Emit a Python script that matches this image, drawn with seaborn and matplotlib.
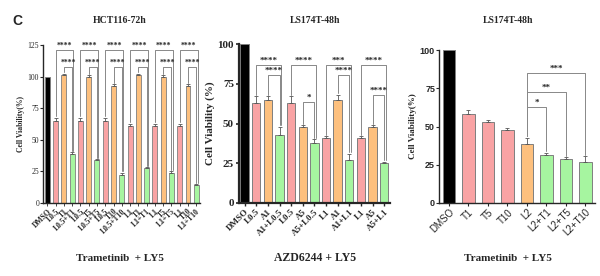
import numpy as np
import pandas as pd
import matplotlib
matplotlib.use('Agg')
import matplotlib.pyplot as plt
import seaborn as sns

sns.set_style('ticks')
plt.rcParams['font.family'] = ['Liberation Serif', 'DejaVu Serif']

BLACK = '#000000'
PINK = '#F9A3A4'
ORANGE = '#FDC07E'
GREEN = '#A6F5A0'
EDGE = '#7f7f7f'

# panel 1 : HCT116-72h
labels1 = ['DMSO', 'L0.5', 'T1', 'L0.5+T1', 'L0.5', 'T5', 'L0.5+T5', 'L0.5', 'T10', 'L0.5+T10',
           'L1', 'T1', 'L1+T1', 'L1', 'T5', 'L1+T5', 'L1', 'T10', 'L1+T10']
vals1 = [100, 65, 101, 39, 65, 99.5, 34, 65, 92.5, 22.5, 61, 101, 27.5, 61, 99.5, 24, 61, 92.5, 14]
err1 = [0, 2, 1.5, 1, 2, 1.5, 1, 2, 1.5, 1.5, 1.5, 1.5, 1, 1.5, 1.5, 1, 1.5, 1.5, 0.8]
colors1 = [BLACK] + [PINK, ORANGE, GREEN] * 6

# panel 2 : LS174T-48h, AZD6244
labels2 = ['DMSO', 'L0.5', 'A1', 'A1+L0.5', 'L0.5', 'A5', 'A5+L0.5', 'L1', 'A1', 'A1+L1', 'L1', 'A5', 'A5+L1']
vals2 = [100, 63, 65, 43, 63, 48, 38, 41, 65, 27, 41, 48, 25]
err2 = [0, 4, 2, 5, 4, 1, 2, 1, 3, 4, 1, 1, 1]
colors2 = [BLACK] + [PINK, ORANGE, GREEN] * 4

# panel 3 : LS174T-48h, Trametinib
labels3 = ['DMSO', 'T1', 'T5', 'T10', 'L2', 'L2+T1', 'L2+T5', 'L2+T10']
vals3 = [100, 58.5, 53, 48, 38.5, 31.5, 28.5, 26.5]
err3 = [0, 2, 1, 1.2, 4, 1.2, 1.5, 4]
colors3 = [BLACK, PINK, PINK, PINK, ORANGE, GREEN, GREEN, GREEN]


def bars(ax, labels, vals, err, colors, width, lw):
    df = pd.DataFrame({'pos': [str(i) for i in range(len(vals))], 'v': vals})
    sns.barplot(data=df, x='pos', y='v', hue='pos', palette=colors, legend=False,
                width=width, edgecolor=EDGE, linewidth=lw, saturation=1, ax=ax)
    x = np.arange(len(vals))
    ax.errorbar(x[1:], vals[1:], yerr=[np.zeros(len(vals) - 1), err[1:]], fmt='none',
                ecolor='#555555', elinewidth=0.6, capsize=1.5, capthick=0.6)
    ax.set_xlabel('')
    ax.set_xlim(-0.5, len(vals) - 0.5)


def bracket(ax, x1, x2, y, y1, y2, text, fs):
    ax.plot([x1, x1, x2, x2], [y1, y, y, y2], color='#888888', lw=0.7, clip_on=False)
    ax.text((x1 + x2) / 2, y, text, ha='center', va='bottom', fontsize=fs,
            fontweight='bold')


fig = plt.figure(figsize=(6, 2.76), dpi=100)
ax1 = fig.add_axes([0.072, 0.2645, 0.262, 0.572])
ax2 = fig.add_axes([0.398, 0.2645, 0.252, 0.576])
ax3 = fig.add_axes([0.732, 0.2645, 0.260, 0.554])

# ---- panel 1
bars(ax1, labels1, vals1, err1, colors1, 0.6, 0.6)
ax1.set_ylim(0, 125)
ax1.set_yticks([0, 25, 50, 75, 100, 125])
ax1.set_xticks(range(len(labels1)))
ax1.set_xticklabels(labels1, rotation=45, ha='right', rotation_mode='anchor',
                    fontsize=5.5, fontweight='bold')
ax1.tick_params(axis='y', labelsize=5.5, length=2, width=0.8, pad=1)
ax1.tick_params(axis='x', length=2, width=0.6, pad=1)
ax1.set_ylabel('Cell Viability(%)', fontsize=5.5, fontweight='bold', labelpad=2)
for g in range(6):
    r, o, gr = 1 + 3 * g, 2 + 3 * g, 3 + 3 * g
    bracket(ax1, r, gr + 0.15, 121.5, vals1[r] + err1[r] + 2, vals1[gr] + err1[gr] + 1, '****', 5.5)
    bracket(ax1, o, gr, 108, vals1[o] + err1[o] + 1, vals1[gr] + err1[gr] + 1, '****', 5.5)
for s in ['top', 'right']:
    ax1.spines[s].set_visible(False)
for s in ['left', 'bottom']:
    ax1.spines[s].set_linewidth(1.0)

# ---- panel 2
bars(ax2, labels2, vals2, err2, colors2, 0.72, 0.7)
ax2.set_ylim(0, 100)
ax2.set_yticks([0, 25, 50, 75, 100])
ax2.set_xticks(range(len(labels2)))
ax2.set_xticklabels(labels2, rotation=45, ha='right', rotation_mode='anchor',
                    fontsize=6.5, fontweight='bold')
ax2.tick_params(axis='y', labelsize=8, length=2.5, width=1.2, pad=1)
ax2.tick_params(axis='x', length=2.5, width=1.0, pad=1)
for t in ax2.get_yticklabels():
    t.set_fontweight('bold')
ax2.set_ylabel('Cell Viability (%)', fontsize=8, fontweight='bold', labelpad=2)
groups2 = [('****', '****', 80.5), ('****', '*', 63.5), ('***', '****', 80.5), ('****', '****', 68)]
for g, (top, low, ylow) in enumerate(groups2):
    r, o, gr = 1 + 3 * g, 2 + 3 * g, 3 + 3 * g
    bracket(ax2, r, gr + 0.12, 87, vals2[r] + err2[r] + 1, vals2[gr] + err2[gr] + 1, top, 6.5)
    bracket(ax2, o, gr, ylow, vals2[o] + err2[o] + 1, vals2[gr] + err2[gr] + 1, low, 6.5)
for s in ['top', 'right']:
    ax2.spines[s].set_visible(False)
for s in ['left', 'bottom']:
    ax2.spines[s].set_linewidth(1.6)

# ---- panel 3
bars(ax3, labels3, vals3, err3, colors3, 0.66, 0.7)
ax3.set_ylim(0, 100)
ax3.set_yticks([0, 25, 50, 75, 100])
ax3.set_xticks(range(len(labels3)))
ax3.set_xticklabels(labels3, rotation=45, ha='right', rotation_mode='anchor',
                    fontsize=7, family='Liberation Sans')
ax3.tick_params(axis='y', labelsize=6.5, length=2, width=0.8, pad=1)
ax3.tick_params(axis='x', length=2, width=0.8, pad=1)
for t in ax3.get_yticklabels():
    t.set_family('Liberation Sans')
    t.set_fontweight('bold')
ax3.set_ylabel('Cell Viability(%)', fontsize=6.5, fontweight='bold', labelpad=2)
for x2, y, s in [(5, 63, '*'), (6, 72.5, '**'), (7, 85, '***')]:
    bracket(ax3, 4, x2, y, vals3[4] + err3[4] + 1, vals3[x2] + err3[x2] + 1, s, 6.5)
for s in ['top', 'right']:
    ax3.spines[s].set_visible(False)
for s in ['left', 'bottom']:
    ax3.spines[s].set_linewidth(1.0)

# titles and group labels
fig.text(0.02, 0.925, 'C', fontsize=10, fontweight='bold', family='Liberation Sans', va='center')
fig.text(0.2, 0.925, 'HCT116-72h', fontsize=7, fontweight='bold', ha='center', va='center')
fig.text(0.525, 0.925, 'LS174T-48h', fontsize=7, fontweight='bold', ha='center', va='center')
fig.text(0.847, 0.925, 'LS174T-48h', fontsize=7, fontweight='bold', ha='center', va='center')
fig.text(0.2, 0.065, 'Trametinib  + LY5', fontsize=8, fontweight='bold', ha='center', va='center')
fig.text(0.525, 0.065, 'AZD6244 + LY5', fontsize=8.5, fontweight='bold', ha='center', va='center')
fig.text(0.847, 0.065, 'Trametinib  + LY5', fontsize=8, fontweight='bold', ha='center', va='center')

fig.savefig('out.png', dpi=100)
